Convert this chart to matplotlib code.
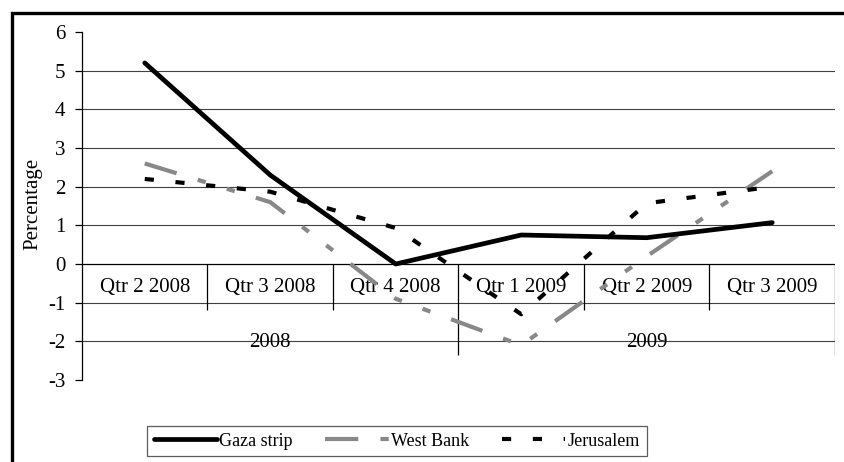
import matplotlib.pyplot as plt
from matplotlib.patches import Rectangle

plt.rcParams['font.family'] = ['Liberation Serif', 'DejaVu Serif']
plt.rcParams['axes.unicode_minus'] = False

# Data (percentage change by quarter)
quarters = ["Qtr 2 2008", "Qtr 3 2008", "Qtr 4 2008", "Qtr 1 2009", "Qtr 2 2009", "Qtr 3 2009"]
years = ["2008", "2009"]
year_spans = [(0, 2), (3, 5)]  # first/last quarter index of each year
gaza = [5.2, 2.3, 0.0, 0.75, 0.68, 1.07]
west_bank = [2.6, 1.6, -0.9, -2.1, 0.2, 2.4]
jerusalem = [2.2, 1.87, 0.93, -1.3, 1.57, 2.0]
y_ticks = [-3, -2, -1, 0, 1, 2, 3, 4, 5, 6]

fig = plt.figure(figsize=(8.45, 4.62), dpi=100)
ax = fig.add_axes([82 / 845, 1 - 380 / 462, (835 - 82) / 845, (380 - 32) / 462])

x = list(range(len(quarters)))
n = len(quarters)

# gridlines (none at the top or bottom tick)
for v in y_ticks[1:-1]:
    if v == 0:
        continue
    ax.axhline(v, color='#404040', lw=0.8, zorder=1)
ax.axhline(0, color='black', lw=0.9, zorder=2)

# category axis separators
for b in range(n - 1):
    bx = b + 0.5
    bottom = -2.35 if any(bx == s[1] + 0.5 for s in year_spans) else -1.2
    ax.vlines(bx, bottom, 0, color='black', lw=0.9, zorder=2)
ax.vlines(n - 0.5, -2.35, 0, color='black', lw=0.9, zorder=2)

for i, q in enumerate(quarters):
    ax.text(i, -0.62, q, ha='center', va='center', fontsize=15, zorder=2)
for yr, (a, b) in zip(years, year_spans):
    ax.text((a + b) / 2, -2.04, yr, ha='center', va='center', fontsize=15, zorder=2)

ax.plot(x, gaza, color='black', lw=3.4, solid_capstyle='round', solid_joinstyle='round', zorder=5, label='Gaza strip')
ax.plot(x, west_bank, color='#888888', lw=3, dashes=(8, 5.3, 2, 5.3, 2, 5.3), zorder=4, label='West Bank')
ax.plot(x, jerusalem, color='black', lw=3, dashes=(2.2, 5.2), zorder=6, label='Jerusalem')

ax.set_xlim(-0.5, n - 0.5)
ax.set_ylim(-3, 6)
ax.set_yticks(y_ticks)
ax.set_xticks([])
for s in ['top', 'right', 'bottom']:
    ax.spines[s].set_visible(False)
ax.spines['left'].set_linewidth(0.9)
ax.tick_params(axis='y', length=5, width=0.9, labelsize=15, pad=7)
ax.set_ylabel('Percentage', fontsize=15)
ax.yaxis.set_label_coords((42 - 82) / 753, (380 - 204) / 348)

# outer chart border (left and top visible)
fig.patches.append(Rectangle((12.5 / 845, -0.2), 1.2, 1.2 - 12.5 / 462,
                             transform=fig.transFigure, fill=False, lw=2.4,
                             edgecolor='black', clip_on=False))

handles, labels = ax.get_legend_handles_labels()
leg = fig.legend(handles, labels, loc='center', bbox_to_anchor=(397 / 845, 1 - 441 / 462),
                 ncol=3, fontsize=13, frameon=True, fancybox=False, edgecolor='#333333',
                 handlelength=3.5, handletextpad=0.15, columnspacing=1.8,
                 borderpad=0.35, borderaxespad=0)
leg.get_frame().set_linewidth(0.9)

fig.savefig('out.png', dpi=100)
